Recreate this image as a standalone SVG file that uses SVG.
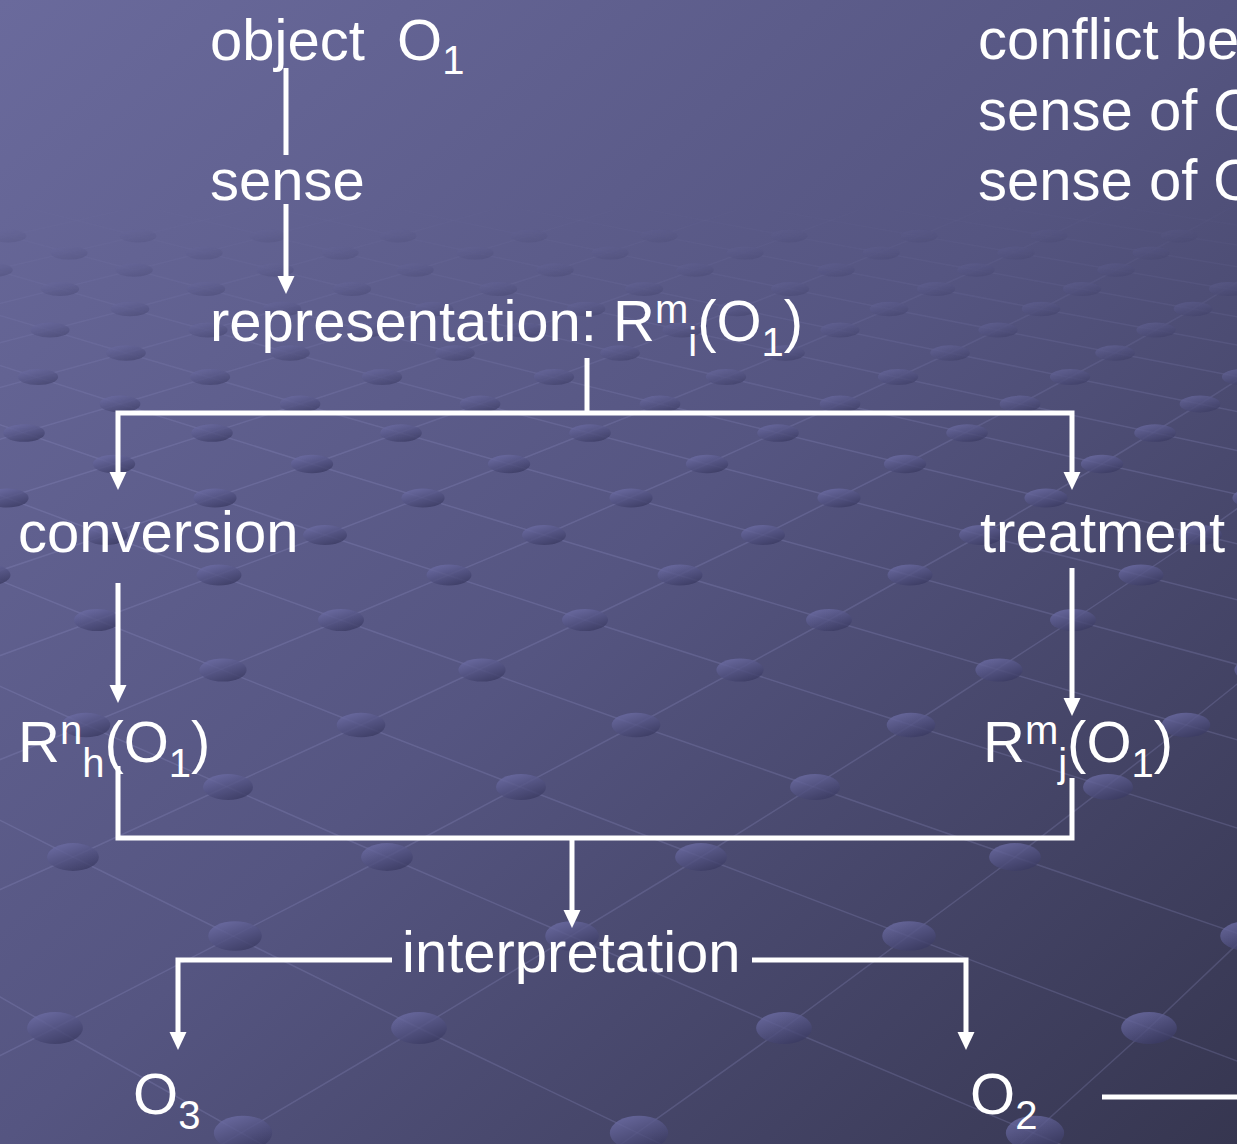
<svg xmlns="http://www.w3.org/2000/svg" width="1237" height="1144" viewBox="0 0 1237 1144">
<defs>
<linearGradient id="bg" x1="0" y1="0" x2="1" y2="1">
<stop offset="0" stop-color="#6a6a9c"/>
<stop offset="0.5" stop-color="#555581"/>
<stop offset="1" stop-color="#363650"/>
</linearGradient>
<linearGradient id="dg" x1="0" y1="0" x2="0.6" y2="1">
<stop offset="0" stop-color="#7474ae"/>
<stop offset="1" stop-color="#3c3c64"/>
</linearGradient>
<linearGradient id="fg" gradientUnits="userSpaceOnUse" x1="0" y1="190" x2="0" y2="460">
<stop offset="0" stop-color="#000"/>
<stop offset="1" stop-color="#fff"/>
</linearGradient>
<mask id="fade" maskUnits="userSpaceOnUse" x="0" y="0" width="1237" height="1144"><rect width="1237" height="1144" fill="url(#fg)"/></mask>
<marker id="ah" viewBox="0 0 18 18" refX="3" refY="9" markerWidth="18" markerHeight="18" markerUnits="userSpaceOnUse" orient="auto"><path d="M0,0.5 L18,9 L0,17.5 z" fill="#fff"/></marker>
</defs>
<style>
.t{font-family:"Liberation Sans",Arial,sans-serif;font-size:58px;fill:#fff}
.s{font-size:40px}
.c{fill:none;stroke:#fff;stroke-width:5}
.g polyline{fill:none;stroke:#9a9ad0;stroke-opacity:.22;stroke-width:1.5}
.d ellipse{fill:url(#dg);opacity:.8}
</style>
<g id="background">
<rect width="1237" height="1144" fill="url(#bg)"/>
<g mask="url(#fade)">
<g class="g">
<polyline points="-242,857 54,1028 463,1257"/>
<polyline points="-189,725 73,857 419,1028 896,1257"/>
<polyline points="-147,620 86,725 387,857 784,1028 1328,1257"/>
<polyline points="-112,535 97,620 361,725 701,857 1149,1028 1761,1257"/>
<polyline points="-84,464 106,535 341,620 636,725 1015,857 1513,1028"/>
<polyline points="-60,404 114,464 325,535 585,620 911,725 1329,857"/>
<polyline points="-39,353 120,404 312,464 544,535 829,620 1186,725 1643,857"/>
<polyline points="-146,270 -22,309 126,353 300,404 509,464 763,535 1073,620 1461,725"/>
<polyline points="-123,236 -6,270 130,309 290,353 480,404 707,464 981,535 1317,620"/>
<polyline points="-102,206 8,236 134,270 282,309 455,353 660,404 905,464 1200,535 1561,620"/>
<polyline points="20,206 138,236 275,270 434,309 620,353 840,404 1102,464 1419,535"/>
<polyline points="141,206 268,236 415,270 586,309 785,353 1020,404 1300,464"/>
<polyline points="262,206 398,236 555,270 737,309 950,353 1200,404 1498,464"/>
<polyline points="384,206 528,236 695,270 889,309 1115,353 1380,404"/>
<polyline points="505,206 659,236 836,270 1041,309 1280,353"/>
<polyline points="627,206 789,236 976,270 1193,309 1445,353"/>
<polyline points="748,206 919,236 1116,270 1345,309"/>
<polyline points="869,206 1049,236 1257,270"/>
<polyline points="991,206 1179,236 1397,270"/>
<polyline points="1112,206 1310,236"/>
<polyline points="20,206 -123,236"/>
<polyline points="141,206 8,236 -146,270"/>
<polyline points="262,206 138,236 -6,270 -174,309"/>
<polyline points="384,206 268,236 134,270 -22,309 -204,353"/>
<polyline points="505,206 398,236 275,270 130,309 -39,353"/>
<polyline points="627,206 528,236 415,270 282,309 126,353 -60,404"/>
<polyline points="748,206 659,236 555,270 434,309 290,353 120,404 -84,464"/>
<polyline points="869,206 789,236 695,270 586,309 455,353 300,404 114,464 -112,535"/>
<polyline points="991,206 919,236 836,270 737,309 620,353 480,404 312,464 106,535 -147,620"/>
<polyline points="1112,206 1049,236 976,270 889,309 785,353 660,404 509,464 325,535 97,620 -189,725"/>
<polyline points="1234,206 1179,236 1116,270 1041,309 950,353 840,404 707,464 544,535 341,620 86,725 -242,857"/>
<polyline points="1310,236 1257,270 1193,309 1115,353 1020,404 905,464 763,535 585,620 361,725 73,857 -310,1028"/>
<polyline points="1345,309 1280,353 1200,404 1102,464 981,535 829,620 636,725 387,857 55,1028 -402,1257"/>
<polyline points="1445,353 1380,404 1300,464 1200,535 1073,620 911,725 701,857 419,1028 31,1257"/>
<polyline points="1419,535 1317,620 1186,725 1015,857 784,1028 463,1257"/>
<polyline points="1461,725 1329,857 1149,1028 896,1257"/>
</g>
<g class="d">
<ellipse cx="8" cy="236" rx="18.4" ry="6.4"/><ellipse cx="138" cy="236" rx="18.4" ry="6.4"/><ellipse cx="268" cy="236" rx="18.4" ry="6.4"/><ellipse cx="398" cy="236" rx="18.4" ry="6.4"/><ellipse cx="529" cy="236" rx="18.4" ry="6.4"/><ellipse cx="659" cy="236" rx="18.4" ry="6.4"/><ellipse cx="789" cy="236" rx="18.4" ry="6.4"/><ellipse cx="919" cy="236" rx="18.4" ry="6.4"/><ellipse cx="1049" cy="236" rx="18.4" ry="6.4"/><ellipse cx="1179" cy="236" rx="18.4" ry="6.4"/>
<ellipse cx="69" cy="253" rx="18.6" ry="6.6"/><ellipse cx="204" cy="253" rx="18.6" ry="6.6"/><ellipse cx="340" cy="253" rx="18.6" ry="6.6"/><ellipse cx="475" cy="253" rx="18.6" ry="6.6"/><ellipse cx="610" cy="253" rx="18.6" ry="6.6"/><ellipse cx="745" cy="253" rx="18.6" ry="6.6"/><ellipse cx="881" cy="253" rx="18.6" ry="6.6"/><ellipse cx="1016" cy="253" rx="18.6" ry="6.6"/><ellipse cx="1151" cy="253" rx="18.6" ry="6.6"/>
<ellipse cx="-6" cy="270" rx="18.8" ry="6.8"/><ellipse cx="134" cy="270" rx="18.8" ry="6.8"/><ellipse cx="275" cy="270" rx="18.8" ry="6.8"/><ellipse cx="415" cy="270" rx="18.8" ry="6.8"/><ellipse cx="555" cy="270" rx="18.8" ry="6.8"/><ellipse cx="695" cy="270" rx="18.8" ry="6.8"/><ellipse cx="836" cy="270" rx="18.8" ry="6.8"/><ellipse cx="976" cy="270" rx="18.8" ry="6.8"/><ellipse cx="1116" cy="270" rx="18.8" ry="6.8"/><ellipse cx="1257" cy="270" rx="18.8" ry="6.8"/>
<ellipse cx="60" cy="289" rx="19.1" ry="7.1"/><ellipse cx="206" cy="289" rx="19.1" ry="7.1"/><ellipse cx="352" cy="289" rx="19.1" ry="7.1"/><ellipse cx="498" cy="289" rx="19.1" ry="7.1"/><ellipse cx="644" cy="289" rx="19.1" ry="7.1"/><ellipse cx="790" cy="289" rx="19.1" ry="7.1"/><ellipse cx="936" cy="289" rx="19.1" ry="7.1"/><ellipse cx="1082" cy="289" rx="19.1" ry="7.1"/><ellipse cx="1228" cy="289" rx="19.1" ry="7.1"/>
<ellipse cx="130" cy="309" rx="19.3" ry="7.3"/><ellipse cx="282" cy="309" rx="19.3" ry="7.3"/><ellipse cx="434" cy="309" rx="19.3" ry="7.3"/><ellipse cx="586" cy="309" rx="19.3" ry="7.3"/><ellipse cx="737" cy="309" rx="19.3" ry="7.3"/><ellipse cx="889" cy="309" rx="19.3" ry="7.3"/><ellipse cx="1041" cy="309" rx="19.3" ry="7.3"/><ellipse cx="1193" cy="309" rx="19.3" ry="7.3"/>
<ellipse cx="50" cy="330" rx="19.6" ry="7.6"/><ellipse cx="208" cy="330" rx="19.6" ry="7.6"/><ellipse cx="366" cy="330" rx="19.6" ry="7.6"/><ellipse cx="524" cy="330" rx="19.6" ry="7.6"/><ellipse cx="682" cy="330" rx="19.6" ry="7.6"/><ellipse cx="840" cy="330" rx="19.6" ry="7.6"/><ellipse cx="998" cy="330" rx="19.6" ry="7.6"/><ellipse cx="1156" cy="330" rx="19.6" ry="7.6"/>
<ellipse cx="126" cy="353" rx="19.8" ry="7.8"/><ellipse cx="290" cy="353" rx="19.8" ry="7.8"/><ellipse cx="455" cy="353" rx="19.8" ry="7.8"/><ellipse cx="620" cy="353" rx="19.8" ry="7.8"/><ellipse cx="785" cy="353" rx="19.8" ry="7.8"/><ellipse cx="950" cy="353" rx="19.8" ry="7.8"/><ellipse cx="1115" cy="353" rx="19.8" ry="7.8"/>
<ellipse cx="38" cy="377" rx="20.1" ry="8.1"/><ellipse cx="210" cy="377" rx="20.1" ry="8.1"/><ellipse cx="382" cy="377" rx="20.1" ry="8.1"/><ellipse cx="554" cy="377" rx="20.1" ry="8.1"/><ellipse cx="726" cy="377" rx="20.1" ry="8.1"/><ellipse cx="898" cy="377" rx="20.1" ry="8.1"/><ellipse cx="1070" cy="377" rx="20.1" ry="8.1"/><ellipse cx="1242" cy="377" rx="20.1" ry="8.1"/>
<ellipse cx="120" cy="404" rx="20.4" ry="8.4"/><ellipse cx="300" cy="404" rx="20.4" ry="8.4"/><ellipse cx="480" cy="404" rx="20.4" ry="8.4"/><ellipse cx="660" cy="404" rx="20.4" ry="8.4"/><ellipse cx="840" cy="404" rx="20.4" ry="8.4"/><ellipse cx="1020" cy="404" rx="20.4" ry="8.4"/><ellipse cx="1200" cy="404" rx="20.4" ry="8.4"/>
<ellipse cx="24" cy="433" rx="20.8" ry="8.8"/><ellipse cx="212" cy="433" rx="20.8" ry="8.8"/><ellipse cx="401" cy="433" rx="20.8" ry="8.8"/><ellipse cx="590" cy="433" rx="20.8" ry="8.8"/><ellipse cx="778" cy="433" rx="20.8" ry="8.8"/><ellipse cx="967" cy="433" rx="20.8" ry="8.8"/><ellipse cx="1155" cy="433" rx="20.8" ry="8.8"/>
<ellipse cx="114" cy="464" rx="21.2" ry="9.2"/><ellipse cx="312" cy="464" rx="21.2" ry="9.2"/><ellipse cx="509" cy="464" rx="21.2" ry="9.2"/><ellipse cx="707" cy="464" rx="21.2" ry="9.2"/><ellipse cx="905" cy="464" rx="21.2" ry="9.2"/><ellipse cx="1102" cy="464" rx="21.2" ry="9.2"/>
<ellipse cx="7" cy="498" rx="21.6" ry="9.6"/><ellipse cx="215" cy="498" rx="21.6" ry="9.6"/><ellipse cx="423" cy="498" rx="21.6" ry="9.6"/><ellipse cx="631" cy="498" rx="21.6" ry="9.6"/><ellipse cx="839" cy="498" rx="21.6" ry="9.6"/><ellipse cx="1046" cy="498" rx="21.6" ry="9.6"/><ellipse cx="1254" cy="498" rx="21.6" ry="9.6"/>
<ellipse cx="106" cy="535" rx="22" ry="10"/><ellipse cx="325" cy="535" rx="22" ry="10"/><ellipse cx="544" cy="535" rx="22" ry="10"/><ellipse cx="763" cy="535" rx="22" ry="10"/><ellipse cx="981" cy="535" rx="22" ry="10"/><ellipse cx="1200" cy="535" rx="22" ry="10"/>
<ellipse cx="-12" cy="575" rx="22.5" ry="10.5"/><ellipse cx="219" cy="575" rx="22.5" ry="10.5"/><ellipse cx="449" cy="575" rx="22.5" ry="10.5"/><ellipse cx="680" cy="575" rx="22.5" ry="10.5"/><ellipse cx="910" cy="575" rx="22.5" ry="10.5"/><ellipse cx="1141" cy="575" rx="22.5" ry="10.5"/>
<ellipse cx="97" cy="620" rx="23" ry="11"/><ellipse cx="341" cy="620" rx="23" ry="11"/><ellipse cx="585" cy="620" rx="23" ry="11"/><ellipse cx="829" cy="620" rx="23" ry="11"/><ellipse cx="1073" cy="620" rx="23" ry="11"/>
<ellipse cx="223" cy="670" rx="23.6" ry="11.6"/><ellipse cx="482" cy="670" rx="23.6" ry="11.6"/><ellipse cx="740" cy="670" rx="23.6" ry="11.6"/><ellipse cx="999" cy="670" rx="23.6" ry="11.6"/><ellipse cx="1258" cy="670" rx="23.6" ry="11.6"/>
<ellipse cx="86" cy="725" rx="24.3" ry="12.3"/><ellipse cx="361" cy="725" rx="24.3" ry="12.3"/><ellipse cx="636" cy="725" rx="24.3" ry="12.3"/><ellipse cx="911" cy="725" rx="24.3" ry="12.3"/><ellipse cx="1186" cy="725" rx="24.3" ry="12.3"/>
<ellipse cx="228" cy="787" rx="25" ry="13"/><ellipse cx="521" cy="787" rx="25" ry="13"/><ellipse cx="815" cy="787" rx="25" ry="13"/><ellipse cx="1108" cy="787" rx="25" ry="13"/>
<ellipse cx="73" cy="857" rx="25.9" ry="13.9"/><ellipse cx="387" cy="857" rx="25.9" ry="13.9"/><ellipse cx="701" cy="857" rx="25.9" ry="13.9"/><ellipse cx="1015" cy="857" rx="25.9" ry="13.9"/>
<ellipse cx="235" cy="936" rx="26.8" ry="14.8"/><ellipse cx="572" cy="936" rx="26.8" ry="14.8"/><ellipse cx="909" cy="936" rx="26.8" ry="14.8"/><ellipse cx="1247" cy="936" rx="26.8" ry="14.8"/>
<ellipse cx="55" cy="1028" rx="27.9" ry="15.9"/><ellipse cx="419" cy="1028" rx="27.9" ry="15.9"/><ellipse cx="784" cy="1028" rx="27.9" ry="15.9"/><ellipse cx="1149" cy="1028" rx="27.9" ry="15.9"/>
<ellipse cx="243" cy="1133" rx="29.2" ry="17.2"/><ellipse cx="639" cy="1133" rx="29.2" ry="17.2"/><ellipse cx="1035" cy="1133" rx="29.2" ry="17.2"/>
</g>
</g>
</g>
<g id="connectors">
<path class="c" d="M286,68 V155"/>
<path class="c" d="M286,204 V279" marker-end="url(#ah)"/>
<path class="c" d="M587,358 V413"/>
<path class="c" d="M587,413 H118 V475" marker-end="url(#ah)"/>
<path class="c" d="M587,413 H1072 V475" marker-end="url(#ah)"/>
<path class="c" d="M118,583 V688" marker-end="url(#ah)"/>
<path class="c" d="M1072,568 V701" marker-end="url(#ah)"/>
<path class="c" d="M118,766 V838 H1072 V778"/>
<path class="c" d="M572,838 V913" marker-end="url(#ah)"/>
<path class="c" d="M392,960 H178 V1035" marker-end="url(#ah)"/>
<path class="c" d="M752,960 H966 V1035" marker-end="url(#ah)"/>
<path class="c" d="M1102,1097 H1237"/>
</g>
<g id="node-object"><text class="t" x="210" y="60">object&#160; O<tspan class="s" dy="14">1</tspan></text></g>
<g id="node-sense"><text class="t" x="210" y="200">sense</text></g>
<g id="node-representation"><text class="t" x="210" y="341">representation: R<tspan class="s" dy="-18">m</tspan><tspan class="s" dy="33">i</tspan><tspan dy="-15">(O</tspan><tspan class="s" dy="15">1</tspan><tspan dy="-15">)</tspan></text></g>
<g id="node-conversion"><text class="t" x="18" y="552">conversion</text></g>
<g id="node-treatment"><text class="t" x="980" y="552">treatment</text></g>
<g id="node-rnh"><text class="t" x="18" y="762">R<tspan class="s" dy="-18">n</tspan><tspan class="s" dy="33">h</tspan><tspan dy="-15">(O</tspan><tspan class="s" dy="15">1</tspan><tspan dy="-15">)</tspan></text></g>
<g id="node-rmj"><text class="t" x="983" y="762">R<tspan class="s" dy="-18">m</tspan><tspan class="s" dy="33">j</tspan><tspan dy="-15">(O</tspan><tspan class="s" dy="15">1</tspan><tspan dy="-15">)</tspan></text></g>
<g id="node-interpretation"><text class="t" x="402" y="972">interpretation</text></g>
<g id="node-o3"><text class="t" x="133" y="1114">O<tspan class="s" dy="15">3</tspan></text></g>
<g id="node-o2"><text class="t" x="970" y="1114">O<tspan class="s" dy="15">2</tspan></text></g>
<g id="node-conflict">
<text class="t" x="978" y="59">conflict be</text>
<text class="t" x="978" y="130">sense of O</text>
<text class="t" x="978" y="200">sense of O</text>
</g>
</svg>
